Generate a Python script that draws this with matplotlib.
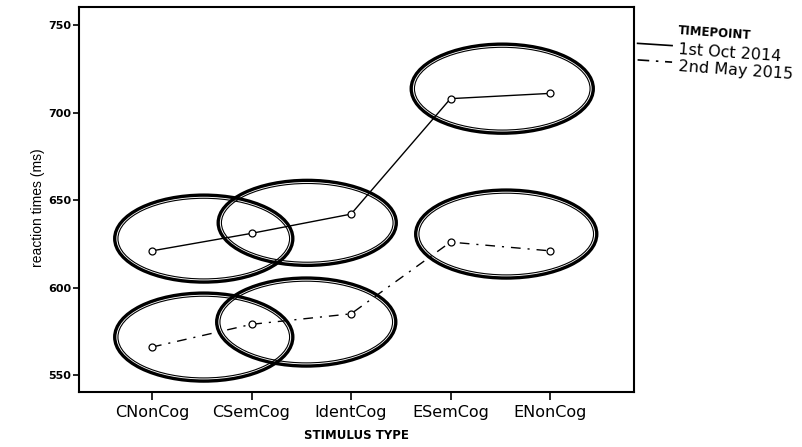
import matplotlib
matplotlib.use("Agg")
import matplotlib.pyplot as plt
from matplotlib.patches import Ellipse
from matplotlib.lines import Line2D

plt.rcParams['font.family'] = ['DejaVu Sans']

categories = ["CNonCog", "CSemCog", "IdentCog", "ESemCog", "ENonCog"]
oct_2014 = [621, 631, 642, 708, 711]
may_2015 = [566, 579, 585, 626, 621]
series_labels = ["1st Oct 2014", "2nd May 2015"]
y_ticks = [550, 600, 650, 700, 750]

# hand-drawn annotation ellipses: (x centre, y centre, width, height) in data units
ellipses = [
    (0.52, 628.0, 1.79, 49.7),
    (1.56, 637.0, 1.79, 48.6),
    (3.52, 713.7, 1.83, 50.9),
    (3.56, 630.6, 1.82, 50.3),
    (0.52, 571.7, 1.79, 50.3),
    (1.55, 580.3, 1.80, 50.3),
]

fig = plt.figure(figsize=(8.02, 4.47), dpi=100)
ax = fig.add_axes([0.0985, 0.123, 0.692, 0.861])

x = list(range(len(categories)))
ax.plot(x, oct_2014, color='black', lw=1.0, marker='o', ms=5,
        mfc='white', mec='black', mew=0.9, zorder=3)
ax.plot(x, may_2015, color='black', lw=1.0, linestyle=(0, (7, 5, 1.5, 5)),
        marker='o', ms=5, mfc='white', mec='black', mew=0.9, zorder=3)

for (cx, cy, w, h) in ellipses:
    ax.add_patch(Ellipse((cx, cy), w, h, fill=False, ec='black', lw=2.4, zorder=2))
    ax.add_patch(Ellipse((cx, cy), w - 0.065, h - 3.6, fill=False, ec='black', lw=0.8, zorder=2))

ax.set_xlim(-0.734, 4.844)
ax.set_ylim(540.3, 760.3)
ax.set_xticks(x)
ax.set_xticklabels(categories, fontsize=11.5)
ax.set_yticks(y_ticks)
ax.set_yticklabels([str(v) for v in y_ticks], fontsize=8, fontweight='bold')
ax.tick_params(axis='x', length=6, width=1.2, pad=3)
ax.tick_params(axis='y', length=4, width=1.2, pad=1.5)
for s in ax.spines.values():
    s.set_linewidth(1.5)

ax.set_xlabel("STIMULUS TYPE", fontsize=8.5, fontweight='bold', labelpad=7)
ax.set_ylabel("reaction times (ms)", fontsize=10,
              family=['Liberation Sans Narrow', 'Liberation Sans'], labelpad=10)
ax.yaxis.set_label_coords(-0.062, 0.48)

# legend outside the axes, drawn manually to match the scan
fig.text(0.845, 0.925, "TIMEPOINT", fontsize=8.5, fontweight='bold', rotation=-4,
         ha='left', va='center')
fig.text(0.845, 0.882, series_labels[0], fontsize=11.5, rotation=-4,
         ha='left', va='center')
fig.text(0.845, 0.843, series_labels[1], fontsize=11.5, rotation=-4,
         ha='left', va='center')
fig.add_artist(Line2D([0.795, 0.838], [0.903, 0.898], color='black', lw=1.2,
                      transform=fig.transFigure))
fig.add_artist(Line2D([0.795, 0.838], [0.866, 0.861], color='black', lw=1.2,
                      linestyle=(0, (7, 4, 1.5, 4)), transform=fig.transFigure))

fig.savefig("out.png", dpi=100)
